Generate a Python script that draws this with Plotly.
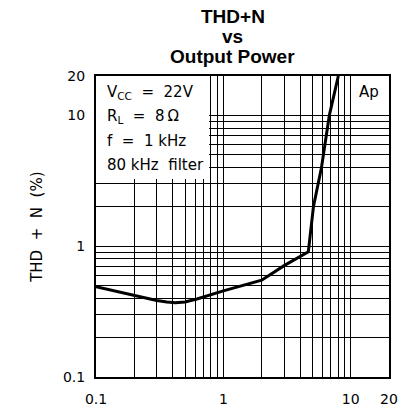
import numpy as np
import plotly.graph_objects as go

# ---- data ----
power_w = [0.1, 0.2, 0.3, 0.36, 0.42, 0.5, 0.62, 1.0, 2.0, 3.0, 4.65, 5.1, 5.9, 6.8, 8.0]
thd_pct = [0.49, 0.42, 0.385, 0.374, 0.37, 0.375, 0.395, 0.455, 0.55, 0.71, 0.905, 2.0, 4.0, 10.0, 20.0]

grid_vals = [0.1, 0.2, 0.3, 0.4, 0.5, 0.6, 0.7, 0.8, 0.9, 1, 2, 3, 4, 5, 6, 7, 8, 9, 10, 20]
x_tick_vals = [0.1, 1, 10, 20]
x_tick_text = ["0.1", "1", "10", "20"]
y_tick_vals = [0.1, 1, 10, 20]
y_tick_text = ["0.1", "1", "10", "20"]

title_lines = ["THD+N", "vs", "Output Power"]
cond_lines = ["V<sub>CC</sub>  =  22V", "R<sub>L</sub>  =  8\u2009\u03a9", "f  =  1 kHz", "80 kHz  filter"]

W, H = 407, 418
L, R, T, B = 96, 9, 76, 41
PH = H - T - B

def py(p):
    return (H - B - p) / PH

def px(p):
    return (p - L) / (W - L - R)

fig = go.Figure()
fig.add_trace(go.Scatter(x=power_w, y=thd_pct, mode="lines",
                         line=dict(color="black", width=3), showlegend=False))

axis_common = dict(type="log", showgrid=True, gridcolor="black", gridwidth=1.2,
                   showline=True, linecolor="black", linewidth=2, mirror=True,
                   ticks="", zeroline=False,
                   minor=dict(tickvals=grid_vals, showgrid=True, gridcolor="black",
                              gridwidth=1.2, ticks=""),
                   tickfont=dict(family="DejaVu Sans", size=14, color="black"))

fig.update_xaxes(range=[-1, np.log10(20)], tickmode="array", tickvals=x_tick_vals,
                 ticktext=x_tick_text, ticklabelstandoff=8, **axis_common)
fig.update_yaxes(range=[-1, np.log10(20)], tickmode="array", tickvals=y_tick_vals,
                 ticktext=y_tick_text, ticklabelstandoff=6, **axis_common)

# white box behind condition text
fig.add_shape(type="rect", xref="x", yref="y", x0=0.1, x1=0.773, y0=3.27, y1=20,
              fillcolor="white", line=dict(width=0), layer="above")

annos = []
for txt, pyc in zip(title_lines, [16.5, 36, 56.5]):
    annos.append(dict(text="<b>%s</b>" % txt, xref="paper", yref="paper",
                      x=px(237), y=py(pyc), xanchor="center", yanchor="middle",
                      showarrow=False,
                      font=dict(family="Liberation Sans", size=19, color="black")))
for txt, pyc in zip(cond_lines, [92, 116, 140.5, 164.5]):
    annos.append(dict(text=txt, xref="paper", yref="paper",
                      x=px(105), y=py(pyc), xanchor="left", yanchor="middle",
                      showarrow=False,
                      font=dict(family="DejaVu Sans", size=15, color="black")))
annos.append(dict(text="Ap", xref="paper", yref="paper", x=px(390), y=py(92),
                  xanchor="right", yanchor="middle", showarrow=False,
                  font=dict(family="DejaVu Sans", size=15, color="black")))
annos.append(dict(text="THD  +  N  (%)", xref="paper", yref="paper", x=px(35), y=py(227),
                  xanchor="center", yanchor="middle", textangle=-90, showarrow=False,
                  font=dict(family="DejaVu Sans", size=15, color="black")))

fig.update_layout(width=W, height=H, margin=dict(l=L, r=R, t=T, b=B),
                  plot_bgcolor="white", paper_bgcolor="white",
                  annotations=annos)

fig.write_html("out.html")
